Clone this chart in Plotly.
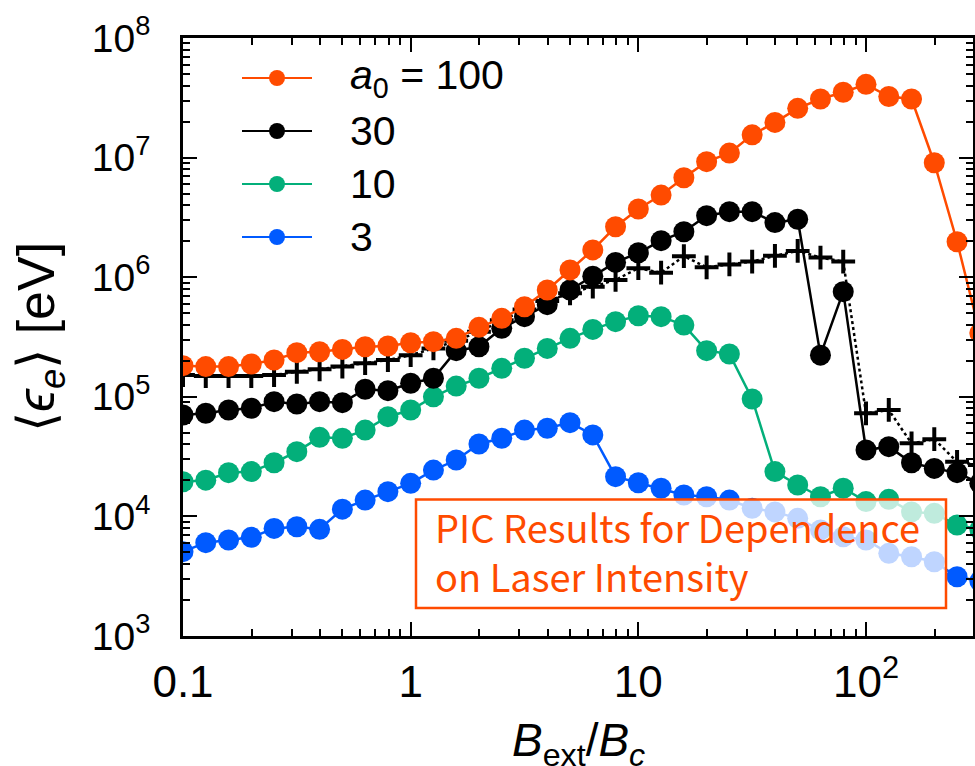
import plotly.graph_objects as go

# External field B_ext/B_c sampled on the PIC scan grid
b_ext = [0.1, 0.1259, 0.1585, 0.1995, 0.2512, 0.3162, 0.3981, 0.5012, 0.631, 0.7943,
         1.0, 1.259, 1.585, 1.995, 2.512, 3.162, 3.981, 5.012, 6.31, 7.943,
         10.0, 12.59, 15.85, 19.95, 25.12, 31.62, 39.81, 50.12, 63.1, 79.43,
         100.0, 125.9, 158.5, 199.5, 251.2, 316.2]

# Mean electron energy <eps_e> [eV] for each laser amplitude a0
energy_a100 = [1.82e5, 1.79e5, 1.79e5, 1.88e5, 2.03e5, 2.34e5, 2.38e5, 2.49e5, 2.62e5, 2.66e5,
               2.83e5, 2.89e5, 3.08e5, 3.81e5, 4.53e5, 5.66e5, 7.82e5, 1.15e6, 1.69e6, 2.64e6,
               3.72e6, 4.86e6, 6.79e6, 9.25e6, 1.09e7, 1.55e7, 1.97e7, 2.58e7, 3.09e7, 3.52e7,
               4.10e7, 3.24e7, 3.09e7, 9.06e6, 1.98e6, 3.41e5]
energy_a30 = [7.05e4, 7.28e4, 7.76e4, 8.02e4, 9.10e4, 8.71e4, 9.10e4, 8.93e4, 1.156e5, 1.125e5,
              1.297e5, 1.429e5, 2.43e5, 2.62e5, 3.74e5, 4.68e5, 5.89e5, 7.82e5, 1.02e6, 1.33e6,
              1.60e6, 2.02e6, 2.40e6, 3.27e6, 3.53e6, 3.53e6, 2.86e6, 3.05e6, 2.23e5, 7.57e5,
              3.59e4, 3.83e4, 2.81e4, 2.52e4, 2.32e4, 1.89e4]
energy_a30_alt = [1.52e5, 1.49e5, 1.49e5, 1.49e5, 1.52e5, 1.62e5, 1.70e5, 1.79e5, 1.91e5, 2.03e5,
                  2.23e5, 2.54e5, 2.94e5, 3.50e5, 4.37e5, 5.37e5, 6.31e5, 7.33e5, 8.34e5, 9.48e5,
                  1.19e6, 1.09e6, 1.50e6, 1.21e6, 1.28e6, 1.35e6, 1.51e6, 1.66e6, 1.46e6, 1.35e6,
                  7.28e4, 7.76e4, 4.08e4, 4.42e4, 2.86e4, 2.69e4]
energy_a10 = [1.95e4, 2.01e4, 2.32e4, 2.37e4, 2.81e4, 3.48e4, 4.58e4, 4.50e4, 5.27e4, 6.82e4,
              7.76e4, 1.00e5, 1.23e5, 1.43e5, 1.73e5, 2.10e5, 2.54e5, 3.08e5, 3.66e5, 4.25e5,
              4.76e5, 4.68e5, 3.98e5, 2.43e5, 2.28e5, 9.59e4, 2.37e4, 1.83e4, 1.46e4, 1.72e4,
              1.33e4, 1.39e4, 1.09e4, 1.06e4, 8.47e3, 7.78e3]
energy_a3 = [5.07e3, 6.03e3, 6.35e3, 6.68e3, 7.94e3, 8.20e3, 7.80e3, 1.15e4, 1.37e4, 1.61e4,
             1.89e4, 2.44e4, 2.96e4, 4.03e4, 4.50e4, 5.27e4, 5.46e4, 6.08e4, 4.80e4, 2.15e4,
             1.91e4, 1.72e4, 1.51e4, 1.46e4, 1.37e4, 1.17e4, 1.09e4, 9.64e3, 7.69e3, 6.76e3,
             6.35e3, 4.91e3, 4.60e3, 4.18e3, 3.13e3, 2.88e3]

legend_labels = ["<i>a</i><sub>0</sub> = 100", "30", "10", "3"]
x_tick_vals = [0.1, 1, 10, 100]
x_tick_text = ["0.1", "1", "10", "10<sup>2</sup>"]
y_tick_vals = [1e3, 1e4, 1e5, 1e6, 1e7, 1e8]
y_tick_text = ["10<sup>3</sup>", "10<sup>4</sup>", "10<sup>5</sup>",
               "10<sup>6</sup>", "10<sup>7</sup>", "10<sup>8</sup>"]
x_title = "<i>B</i><sub>ext</sub>/<i>B</i><sub><i>c</i></sub>"
y_title = "⟨<i>ϵ</i><sub><i>e</i></sub>⟩ [eV]"

ORANGE = "#FF4B00"
BLACK = "#000000"
GREEN = "#03AF7A"
BLUE = "#005AFF"
AXIS_FONT = "Liberation Sans, Arial, sans-serif"

fig = go.Figure()


def add_circles(y, color):
    fig.add_trace(go.Scatter(
        x=b_ext, y=y, mode="lines+markers",
        line=dict(color=color, width=2.5),
        marker=dict(color=color, size=21, symbol="circle"),
        showlegend=False, cliponaxis=True,
    ))


add_circles(energy_a3, BLUE)
add_circles(energy_a10, GREEN)
fig.add_trace(go.Scatter(
    x=b_ext, y=energy_a30_alt, mode="lines+markers",
    line=dict(color=BLACK, width=2.5, dash="dot"),
    marker=dict(color=BLACK, size=17, symbol="cross-thin",
                line=dict(color=BLACK, width=4)),
    showlegend=False, cliponaxis=True,
))
add_circles(energy_a30, BLACK)
add_circles(energy_a100, ORANGE)

# minor tick positions 2..9 within each decade
x_minor = [m * 10 ** e for e in range(-1, 3) for m in range(2, 10)]
y_minor = [m * 10 ** e for e in range(3, 8) for m in range(2, 10)]

axis_common = dict(
    type="log", showgrid=False, zeroline=False, automargin=False,
    showline=True, linecolor="black", linewidth=2.5,
    mirror="allticks", ticks="inside", ticklen=14, tickwidth=2,
    tickcolor="black", tickmode="array",
)

fig.update_xaxes(
    **axis_common,
    range=[-1, 2.47],
    tickvals=x_tick_vals, ticktext=x_tick_text,
    tickfont=dict(family=AXIS_FONT, size=44, color="black"),
    ticklabelstandoff=5,
    minor=dict(tickmode="array", tickvals=x_minor, ticks="inside",
               ticklen=7, tickwidth=1.5, tickcolor="black", showgrid=False),
)
fig.update_yaxes(
    **axis_common,
    range=[3, 8],
    tickvals=y_tick_vals, ticktext=y_tick_text,
    tickfont=dict(family=AXIS_FONT, size=39, color="black"),
    ticklabelstandoff=22,
    minor=dict(tickmode="array", tickvals=y_minor, ticks="inside",
               ticklen=7, tickwidth=1.5, tickcolor="black", showgrid=False),
)

W, H = 975, 766
ML, MR, MT, MB = 183, 2, 38, 130
PW, PH = W - ML - MR, H - MT - MB


def px(x):
    return (x - ML) / PW


def py(y):
    return (H - MB - y) / PH


shapes = []
annotations = []

# axis titles
annotations.append(dict(xref="paper", yref="paper", x=0.5, y=py(744),
                        xanchor="center", yanchor="middle", showarrow=False,
                        text=x_title,
                        font=dict(family=AXIS_FONT, size=46, color="black")))
annotations.append(dict(xref="paper", yref="paper", x=px(40), y=0.5,
                        xanchor="center", yanchor="middle", showarrow=False,
                        textangle=-90, text=y_title,
                        font=dict(family=AXIS_FONT, size=52, color="black")))

# legend keys
legend_colors = [ORANGE, BLACK, GREEN, BLUE]
legend_rows = [78, 131, 184, 237]
for label, color, row in zip(legend_labels, legend_colors, legend_rows):
    shapes.append(dict(type="line", xref="paper", yref="paper",
                       x0=px(242), x1=px(312), y0=py(row), y1=py(row),
                       line=dict(color=color, width=2.2)))
    shapes.append(dict(type="circle", xref="paper", yref="paper",
                       xsizemode="pixel", ysizemode="pixel",
                       xanchor=px(277), yanchor=py(row),
                       x0=-8, x1=8, y0=-8, y1=8,
                       fillcolor=color, line=dict(color=color, width=0)))
    annotations.append(dict(xref="paper", yref="paper", x=px(348), y=py(row),
                            xanchor="left", yanchor="middle", showarrow=False,
                            text=label,
                            font=dict(family=AXIS_FONT, size=41, color="black")))

# translucent caption box laid over the curves
shapes.append(dict(type="rect", xref="paper", yref="paper", layer="above",
                   x0=px(416), x1=px(946), y0=py(608), y1=py(499.5),
                   fillcolor="rgba(255,255,255,0.75)",
                   line=dict(color=ORANGE, width=2.5)))
annotations.append(dict(xref="paper", yref="paper", x=px(433), y=py(551),
                        xanchor="left", yanchor="middle", align="left",
                        showarrow=False,
                        text="PIC Results for Dependence<br>on Laser Intensity",
                        font=dict(family="Noto Sans CJK JP, Noto Sans, sans-serif",
                                  size=38, color=ORANGE)))

fig.update_layout(
    width=W, height=H,
    margin=dict(l=ML, r=MR, t=MT, b=MB),
    paper_bgcolor="white", plot_bgcolor="white",
    shapes=shapes, annotations=annotations,
    showlegend=False,
)

fig.write_html("out.html")
